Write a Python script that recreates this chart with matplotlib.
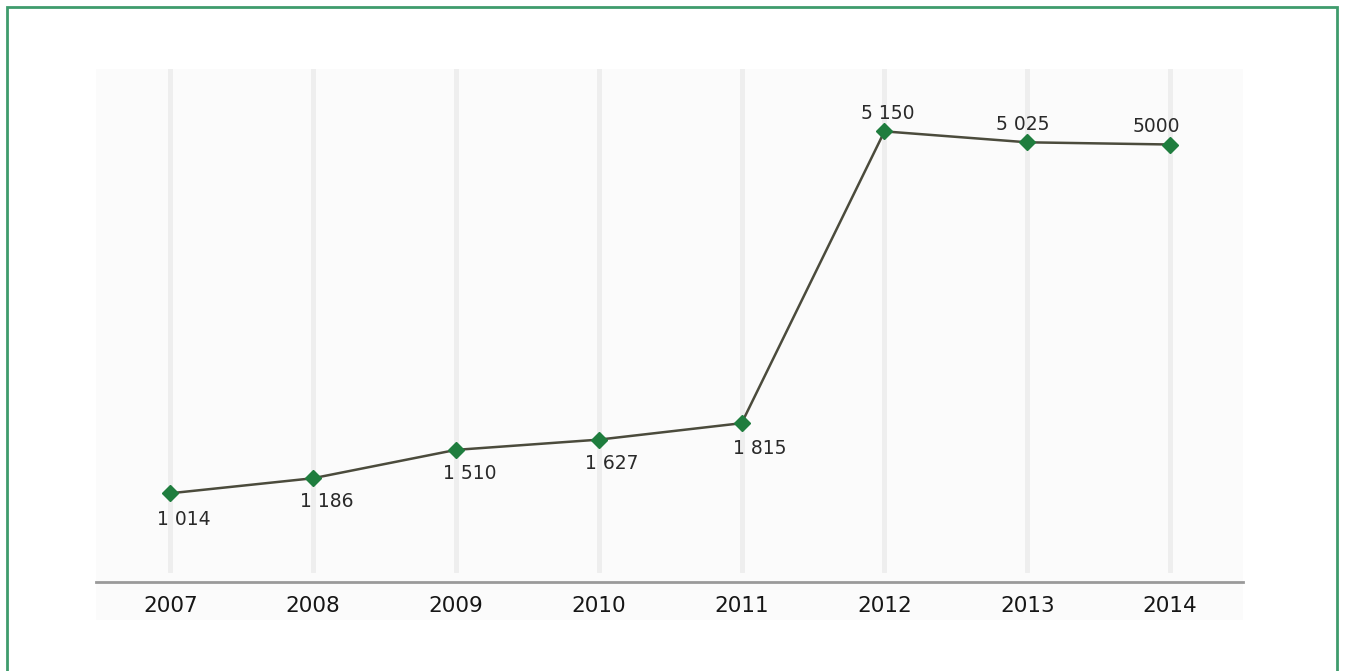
import matplotlib
matplotlib.use("Agg")
import matplotlib.pyplot as plt
from matplotlib.patches import Rectangle

years = ["2007", "2008", "2009", "2010", "2011", "2012", "2013", "2014"]
values = [1014, 1186, 1510, 1627, 1815, 5150, 5025, 5000]
labels = ["1 014", "1 186", "1 510", "1 627", "1 815", "5 150", "5 025", "5000"]

W, H = 1345, 671
fig = plt.figure(figsize=(W / 100, H / 100), dpi=100)
fig.patch.set_facecolor("white")

def fx(px):
    return px / W

def fy(py):
    return 1 - py / H

# green frame
fig.patches.append(Rectangle((fx(7), fy(700)), fx(1337) - fx(7), fy(7) - fy(700),
                             transform=fig.transFigure, fill=False,
                             edgecolor="#3f9c6d", linewidth=2.0, clip_on=False, zorder=10))
# light plot background including tick-label band
fig.patches.append(Rectangle((fx(96), fy(620)), fx(1243) - fx(96), fy(69) - fy(620),
                             transform=fig.transFigure, facecolor="#fbfbfb",
                             edgecolor="none", zorder=-10))

left, right, top, bottom = 96, 1243, 69, 582
ax = fig.add_axes([fx(left), fy(bottom), fx(right) - fx(left), fy(top) - fy(bottom)])
ax.patch.set_alpha(0)

x = list(range(len(years)))
ymax = (bottom - top) / 0.0875
ax.set_xlim(-0.52, 7.51)
ax.set_ylim(0, ymax)

for xi in x:
    ax.axvline(xi, ymin=12 / (bottom - top), ymax=1, color="#eeeeee", linewidth=3.5, zorder=1)

ax.plot(x, values, color="#4b4b3c", linewidth=1.8, zorder=3)
ax.plot(x, values, linestyle="none", marker="D", markersize=8,
        color="#1f7d3e", zorder=4)

offsets = [(10, -19), (10, -17), (10, -17), (9, -17), (13, -18),
           (2, 13), (-3, 13), (-10, 13)]
for xi, v, lab, (dx, dy) in zip(x, values, labels, offsets):
    ax.annotate(lab, (xi, v), xytext=(dx, dy), textcoords="offset points",
                ha="center", va="center", fontsize=13.5, color="#2a2a2a",
                family="DejaVu Sans", zorder=5)

for s in ["top", "right", "left"]:
    ax.spines[s].set_visible(False)
ax.spines["bottom"].set_color("#9a9a9a")
ax.spines["bottom"].set_linewidth(2)
ax.set_yticks([])
ax.set_xticks(x)
ax.set_xticklabels(years, fontsize=15.5, color="#161616", fontweight="normal")
ax.tick_params(axis="x", length=0, pad=10)

fig.savefig("out.png", dpi=100, facecolor="white")
